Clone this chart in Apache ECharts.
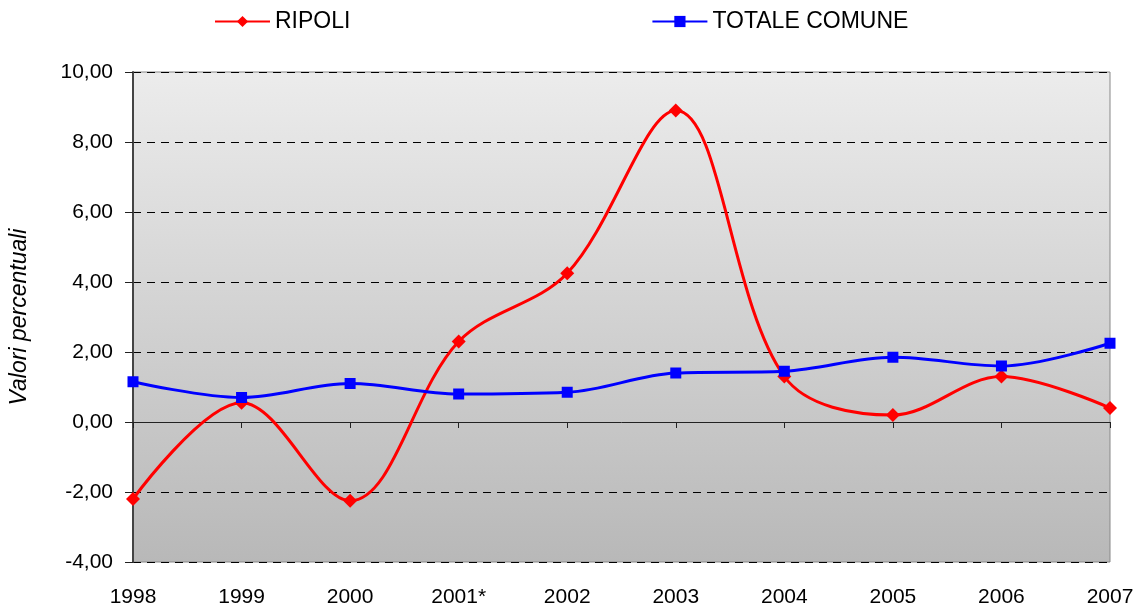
<!DOCTYPE html>
<html>
<head>
<meta charset="utf-8">
<script src="https://cdn.jsdelivr.net/npm/echarts@6/dist/echarts.min.js"></script>
<style>
  html, body { margin: 0; padding: 0; background: #fff; }
  #chart { width: 1146px; height: 610px; }
</style>
</head>
<body>
<div id="chart"></div>
<script>
const years = ['1998', '1999', '2000', '2001*', '2002', '2003', '2004', '2005', '2006', '2007']
const ripoli = [-2.2, 0.55, -2.25, 2.3, 4.25, 8.9, 1.3, 0.2, 1.3, 0.4]
const totaleComune = [1.15, 0.7, 1.1, 0.8, 0.85, 1.4, 1.45, 1.85, 1.6, 2.25]

const font = 'Liberation Sans, Arial, sans-serif'
const chart = echarts.init(document.getElementById('chart'))

const option = {
  animation: false,
  textStyle: { fontFamily: font },
  legend: {
    top: 5,
    left: 209,
    itemGap: 301,
    itemWidth: 55,
    itemHeight: 14,
    textStyle: { fontSize: 23, color: '#000', fontFamily: font },
    data: ['RIPOLI', 'TOTALE COMUNE']
  },
  grid: {
    left: 133, right: 36, top: 72, bottom: 48,
    outerBoundsMode: 'none',
    show: true,
    borderColor: '#888',
    borderWidth: 1,
    backgroundColor: new echarts.graphic.LinearGradient(0, 0, 0, 1, [
      { offset: 0, color: '#ececec' },
      { offset: 1, color: '#b8b8b8' }
    ])
  },
  xAxis: [
    {
      type: 'category',
      data: years,
      boundaryGap: false,
      position: 'bottom',
      axisLine: { show: false, onZero: false },
      axisTick: { show: false },
      axisLabel: { fontSize: 21, color: '#000', margin: 25, fontFamily: font },
      splitLine: { show: false }
    },
    {
      type: 'category',
      data: years,
      boundaryGap: false,
      position: 'bottom',
      axisLine: { show: true, onZero: true, lineStyle: { color: '#222', width: 1 } },
      axisTick: { show: true, inside: false, length: 6, lineStyle: { color: '#222' } },
      axisLabel: { show: false },
      splitLine: { show: false }
    }
  ],
  yAxis: {
    type: 'value',
    min: -4,
    max: 10,
    interval: 2,
    name: 'Valori percentuali',
    nameLocation: 'middle',
    nameGap: 102,
    nameTextStyle: { fontSize: 23, fontStyle: 'italic', color: '#000', fontFamily: font },
    axisLine: { show: true, lineStyle: { color: '#444', width: 2 } },
    axisTick: { show: true, length: 8, lineStyle: { color: '#222' } },
    axisLabel: {
      fontSize: 21, color: '#000', margin: 20, fontFamily: font,
      formatter: v => v.toFixed(2).replace('.', ',')
    },
    splitLine: { show: true, lineStyle: { color: '#000', type: [8, 6], width: 1 } }
  },
  series: [
    {
      name: 'RIPOLI',
      type: 'line',
      data: ripoli,
      smooth: 0.35,
      symbol: 'diamond',
      symbolSize: 14,
      lineStyle: { color: '#ff0000', width: 3 },
      itemStyle: { color: '#ff0000' },
      z: 3
    },
    {
      name: 'TOTALE COMUNE',
      type: 'line',
      data: totaleComune,
      smooth: 0.35,
      symbol: 'rect',
      symbolSize: 11,
      lineStyle: { color: '#0000ff', width: 3 },
      itemStyle: { color: '#0000ff' },
      z: 4
    }
  ]
}

chart.setOption(option)
window.addEventListener('resize', () => chart.resize())
</script>
</body>
</html>
